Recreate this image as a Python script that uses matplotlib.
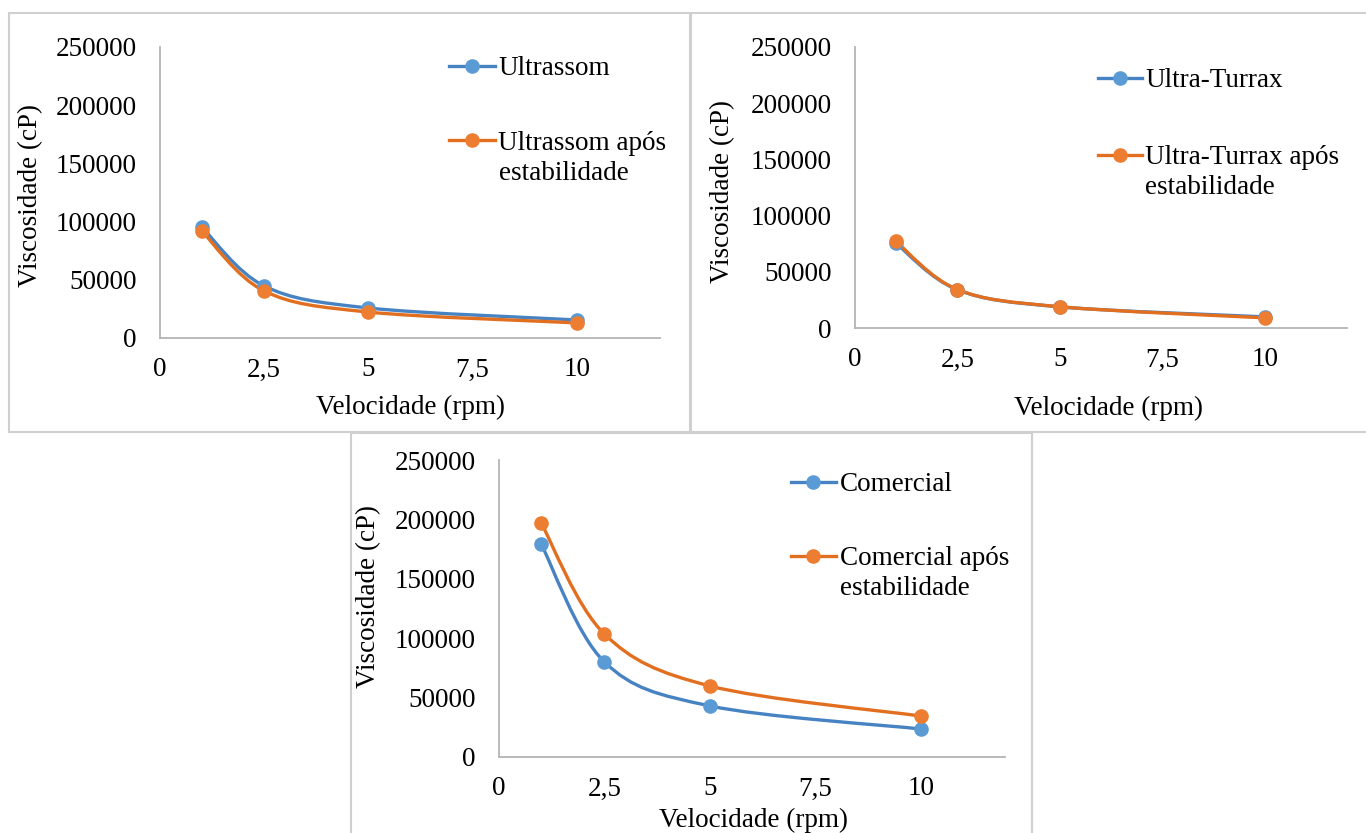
import matplotlib
matplotlib.use("Agg")
from matplotlib import pyplot as plt
from matplotlib.path import Path
from matplotlib.patches import PathPatch, Rectangle

plt.rcParams['font.family'] = ['Liberation Serif', 'DejaVu Serif']

BLUE = '#5B9BD5'
BLUE_LINE = '#4783C3'
ORANGE = '#ED7D31'
ORANGE_LINE = '#E26F1F'
AXIS = '#b4b4b4'
FS = 19.5

velocidade = [1, 2.5, 5, 10]

ultrassom = [95400, 44700, 25800, 15500]
ultrassom_apos = [92000, 40400, 22300, 13000]

turrax = [75300, 34000, 18800, 9900]
turrax_apos = [77000, 34200, 18900, 9000]

comercial = [179300, 80000, 43000, 23600]
comercial_apos = [197000, 103500, 59800, 34500]

x_ticks = [0, 2.5, 5, 7.5, 10]
x_tick_labels = ['0', '2,5', '5', '7,5', '10']
y_ticks = [0, 50000, 100000, 150000, 200000, 250000]

W, H = 1366, 833


def smooth_path(xs, ys):
    # excel-like smoothed line: catmull-rom as cubic bezier segments
    pts = list(zip(xs, ys))
    n = len(pts)
    verts = [pts[0]]
    codes = [Path.MOVETO]
    for i in range(n - 1):
        p0 = pts[max(i - 1, 0)]
        p1 = pts[i]
        p2 = pts[i + 1]
        p3 = pts[min(i + 2, n - 1)]
        c1 = (p1[0] + (p2[0] - p0[0]) / 6, p1[1] + (p2[1] - p0[1]) / 6)
        c2 = (p2[0] - (p3[0] - p1[0]) / 6, p2[1] - (p3[1] - p1[1]) / 6)
        verts += [c1, c2, p2]
        codes += [Path.CURVE4] * 3
    return Path(verts, codes)


def draw_series(ax, ys, color, line_color):
    ax.add_patch(PathPatch(smooth_path(velocidade, ys), fill=False,
                           edgecolor=line_color, lw=2.4, zorder=3,
                           capstyle='round', joinstyle='round'))
    ax.plot(velocidade, ys, 'o', color=color, ms=9.5, zorder=4)


def legend_entry(ax, x0, x1, y, color, line_color, lines):
    ax.plot([x0, x1], [y, y], '-', color=line_color, lw=2.4,
            transform=ax.transAxes, clip_on=False)
    ax.plot([(x0 + x1) / 2], [y], 'o', color=color, ms=9.5,
            transform=ax.transAxes, clip_on=False)
    for text, ty in lines:
        ax.text(x1 + 0.007, ty, text, fontsize=FS, va='center_baseline',
                ha='left', transform=ax.transAxes)


def setup_axes(rect_px, ylab_pos, xlab_pos):
    left, right, top, bottom = rect_px
    ax = fig.add_axes([left / W, (H - bottom) / H, (right - left) / W, (bottom - top) / H])
    ax.set_xlim(0, 12)
    ax.set_ylim(0, 250000)
    ax.set_xticks(x_ticks)
    ax.set_xticklabels(x_tick_labels)
    ax.set_yticks(y_ticks)
    ax.set_yticklabels([str(v) for v in y_ticks])
    ax.tick_params(axis='both', length=0, labelsize=FS, colors='#000000')
    ax.tick_params(axis='y', pad=17)
    ax.tick_params(axis='x', pad=14)
    for s in ['top', 'right']:
        ax.spines[s].set_visible(False)
    for s in ['left', 'bottom']:
        ax.spines[s].set_color(AXIS)
        ax.spines[s].set_linewidth(1.3)
    ax.set_ylabel('Viscosidade (cP)', fontsize=FS, va='center', ha='center')
    ax.yaxis.set_label_coords(*ylab_pos)
    ax.set_xlabel('Velocidade (rpm)', fontsize=FS, va='center', ha='center')
    ax.xaxis.set_label_coords(*xlab_pos)
    return ax


fig = plt.figure(figsize=(W / 100, H / 100), dpi=100)

# chart area borders
for (x0, y0, x1, y1) in [(9, 13, 691, 432), (690, 13, 1372, 432), (351, 433, 1032, 840)]:
    fig.patches.append(Rectangle((x0 / W, (H - y1) / H), (x1 - x0) / W, (y1 - y0) / H,
                                 transform=fig.transFigure, fill=False,
                                 edgecolor='#d0d0d0', lw=1.5))

# Ultrassom
ax1 = setup_axes((160, 660, 47, 338), (-0.258, 0.488), (0.502, -0.237))
draw_series(ax1, ultrassom, BLUE, BLUE_LINE)
draw_series(ax1, ultrassom_apos, ORANGE, ORANGE_LINE)
legend_entry(ax1, 0.578, 0.670, 0.935, BLUE, BLUE_LINE, [('Ultrassom', 0.935)])
legend_entry(ax1, 0.578, 0.670, 0.680, ORANGE, ORANGE_LINE,
             [('Ultrassom após', 0.680), ('estabilidade', 0.577)])

# Ultra-Turrax
ax2 = setup_axes((855, 1347, 47, 328), (-0.270, 0.484), (0.516, -0.285))
draw_series(ax2, turrax, BLUE, BLUE_LINE)
draw_series(ax2, turrax_apos, ORANGE, ORANGE_LINE)
legend_entry(ax2, 0.494, 0.583, 0.890, BLUE, BLUE_LINE, [('Ultra-Turrax', 0.890)])
legend_entry(ax2, 0.494, 0.583, 0.616, ORANGE, ORANGE_LINE,
             [('Ultra-Turrax após', 0.616), ('estabilidade', 0.509)])

# Comercial
ax3 = setup_axes((499, 1005, 460, 757), (-0.257, 0.539), (0.502, -0.212))
draw_series(ax3, comercial, BLUE, BLUE_LINE)
draw_series(ax3, comercial_apos, ORANGE, ORANGE_LINE)
legend_entry(ax3, 0.577, 0.666, 0.926, BLUE, BLUE_LINE, [('Comercial', 0.926)])
legend_entry(ax3, 0.577, 0.666, 0.677, ORANGE, ORANGE_LINE,
             [('Comercial após', 0.677), ('estabilidade', 0.579)])

fig.savefig('out.png', dpi=100)
